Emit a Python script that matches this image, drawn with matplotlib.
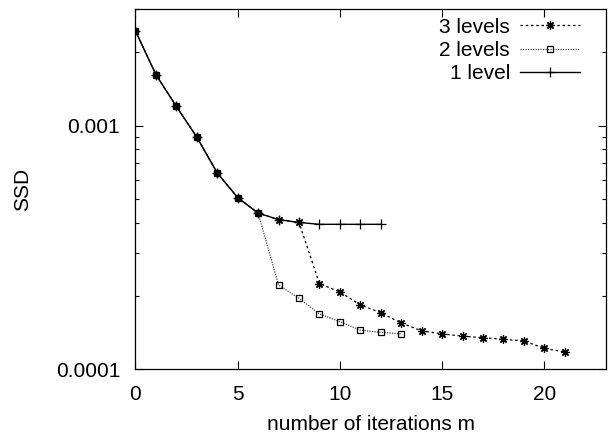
import numpy as np
import matplotlib
matplotlib.use("Agg")
import matplotlib.pyplot as plt
from matplotlib.ticker import LogLocator, NullFormatter, FixedLocator

plt.rcParams['font.family'] = ['Liberation Sans', 'DejaVu Sans']

# SSD per iteration
common = [0.00245, 0.00162, 0.00120, 0.000898, 0.000640, 0.000507, 0.000438]
lvl3 = common + [0.000412, 0.000401, 0.000225, 0.000208, 0.000184, 0.000171,
                 0.000155, 0.000144, 0.000140, 0.000137, 0.000135, 0.000133,
                 0.000131, 0.000122, 0.000118]
lvl2 = common + [0.000222, 0.000196, 0.000169, 0.000157, 0.000145, 0.000142,
                 0.000140]
lvl1 = common + [0.000412, 0.000401, 0.000394, 0.000394, 0.000394, 0.000394]

m3 = np.arange(len(lvl3))
m2 = np.arange(len(lvl2))
m1 = np.arange(len(lvl1))

fs = 15

fig = plt.figure(figsize=(6.13, 4.37), dpi=100)
ax = fig.add_axes([0.221, 0.1545, 0.767, 0.824])

ax.plot(m3, lvl3, color='black', lw=0.9, ls=(0, (2.0, 2.2)),
        marker=(8, 2, 0), ms=6, mew=0.9, label='3 levels')
ax.plot(m2, lvl2, color='#444444', lw=0.9, ls=(0, (1, 1)),
        marker='s', ms=5, mfc='none', mec='black', mew=0.9, label='2 levels')
ax.plot(m1, lvl1, color='black', lw=1.0, ls='-',
        marker='+', ms=7, mew=0.9, label='1 level')

ax.set_yscale('log')
ax.set_xlim(0, 23)
ax.set_ylim(0.0001, 0.003)
ax.xaxis.set_major_locator(FixedLocator([0, 5, 10, 15, 20]))
ax.yaxis.set_major_locator(FixedLocator([0.0001, 0.001]))
ax.set_yticklabels(['0.0001', '0.001'])
ax.yaxis.set_minor_locator(LogLocator(base=10, subs=np.arange(2, 10)))
ax.yaxis.set_minor_formatter(NullFormatter())

ax.tick_params(which='both', direction='in', top=True, right=True,
               labelsize=fs, width=0.8)
ax.tick_params(which='major', length=6)
ax.tick_params(which='minor', length=3)
ax.tick_params(axis='x', which='major', pad=11)
ax.tick_params(axis='y', which='major', pad=11)
for s in ax.spines.values():
    s.set_linewidth(0.9)

ax.set_xlabel('number of iterations m', fontsize=fs, labelpad=8)
ax.set_ylabel('SSD', fontsize=fs, labelpad=17)

ax.legend(loc='upper right', bbox_to_anchor=(0.9457, 0.977),
          markerfirst=False, frameon=False, fontsize=fs,
          handlelength=2.88, handletextpad=0.48, labelspacing=0.2,
          borderpad=0, borderaxespad=0)

fig.savefig('out.png', dpi=100)
